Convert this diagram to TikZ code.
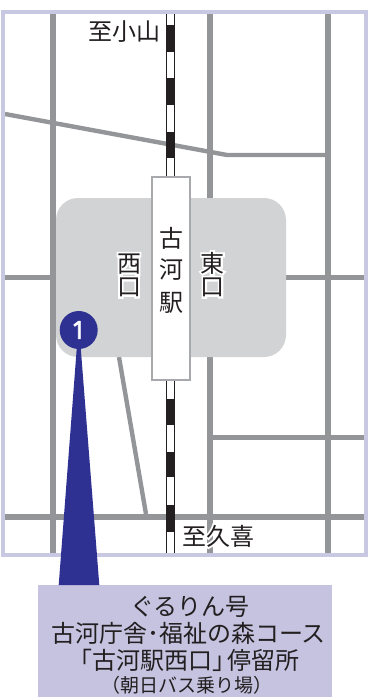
\documentclass[tikz,border=0pt]{standalone}
\usepackage{fontspec}
\setmainfont{Noto Sans CJK JP}
\newfontfamily\numfont[FakeBold=2.5]{Noto Sans}
\definecolor{framec}{HTML}{C9C8E3}
\definecolor{roadc}{HTML}{939598}
\definecolor{inkc}{HTML}{231F20}
\definecolor{plazac}{HTML}{D1D3D4}
\definecolor{stationc}{HTML}{A7A9AC}
\definecolor{navyc}{HTML}{2E3192}
\definecolor{captionc}{HTML}{C5C3E0}
\newcommand{\halotext}[1]{\leavevmode\rlap{\special{pdf:code 2 Tr 1 1 1 RG 3.6 w}\color{white}#1\special{pdf:code 0 Tr 1 w}}#1}
\tikzset{
  x=1pt,y=-1pt,
  road/.style={draw=roadc,line width=5.2pt},
  thinroad/.style={draw=roadc,line width=4.4pt},
  railside/.style={draw=inkc,line width=1.3pt},
  railblock/.style={fill=inkc},
  label/.style={inner sep=0pt,text=inkc,font=\fontsize{24}{24}\selectfont},
  capline/.style={inner sep=0pt,text=inkc,font=\fontsize{24}{24}\selectfont},
}
\begin{document}
\begin{tikzpicture}
\useasboundingbox (0,0) rectangle (382,697);
% roads
\draw[road] (53,14) -- (53,553);
\draw[road] (210,14) -- (210,553);
\draw[road] (328,14) -- (328,553);
\draw[road] (5,277.7) -- (364,277.7);
\draw[road] (210,437.7) -- (364,437.7);
\draw[road] (5,517) -- (364,517);
\draw[thinroad] (5,114) -- (227,155) -- (326,155);
\draw[thinroad] (119,357) -- (146,514);
% plaza
\node[fill=plazac,rounded corners=22pt,minimum width=230pt,minimum height=159pt,inner sep=0pt] (plaza) at (171,277.5) {};
% rail
\fill[white] (166.5,14) rectangle (175,553);
\draw[railside] (166.8,14) -- (166.8,553);
\draw[railside] (174.7,14) -- (174.7,553);
\fill[railblock] (166.2,25) rectangle (175.3,52);
\fill[railblock] (166.2,78) rectangle (175.3,105);
\fill[railblock] (166.2,132) rectangle (175.3,158);
\fill[railblock] (166.2,399) rectangle (175.3,425);
\fill[railblock] (166.2,452) rectangle (175.3,477);
\fill[railblock] (166.2,505) rectangle (175.3,532);
% frame
\draw[framec,line width=3.6pt] (3.2,12) rectangle (366,555);
% station
\node[draw=stationc,fill=white,line width=2.4pt,minimum width=38pt,minimum height=203pt,inner sep=0pt] (station) at (171,278.3) {};
\node[label] (sta1) at (171,238) {古};
\node[label] (sta2) at (171,269.5) {河};
\node[label] (sta3) at (171,302.5) {駅};
\node[label] (west1) at (129,264) {\halotext{西}};
\node[label] (west2) at (129,287.5) {\halotext{口}};
\node[label] (east1) at (212.5,263) {\halotext{東}};
\node[label] (east2) at (212.5,287.5) {\halotext{口}};
\node[label] (north) at (124.5,31.5) {\halotext{至小山}};
\node[label] (south) at (218,536) {\halotext{至久喜}};
% pointer
\node[fill=captionc,minimum width=293.5pt,minimum height=112pt,inner sep=0pt] (caption) at (185,641) {};
\fill[navyc] (77,345) -- (80.5,345) -- (99.3,585) -- (58.7,585) -- cycle;
\node[circle,fill=navyc,minimum size=38pt,inner sep=0pt,text=white,font=\numfont\fontsize{25}{25}\selectfont] (stop) at (78.7,330) {1};
% caption text
\node[capline] (cap1) at (190,606.7) {ぐるりん号};
\node[capline] (cap2) at (188.5,633) {古河庁舎･福祉の森コース};
\node[capline] (cap3) at (184,660) {「古河駅西口」\hspace{-9pt}停留所};
\node[capline,font=\fontsize{19}{19}\selectfont] (cap4) at (187,685) {（朝日バス乗り場）};
\end{tikzpicture}
\end{document}
